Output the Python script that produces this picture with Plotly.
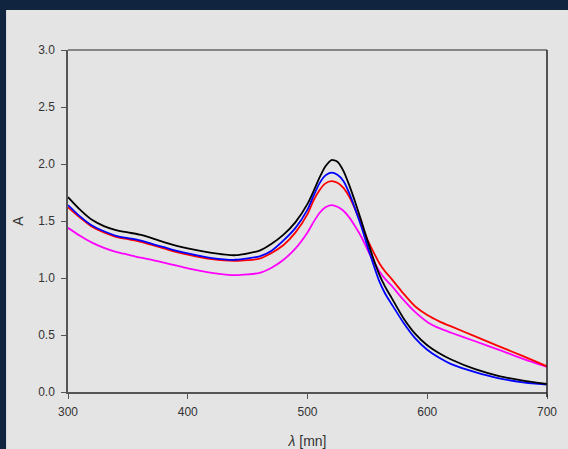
import plotly.graph_objects as go

wavelength = [300, 310, 320, 330, 340, 350, 360, 370, 380, 390, 400, 420, 440, 460, 470, 480, 490,
              500, 505, 510, 515, 520, 525, 530, 535, 540, 545, 550, 555, 560, 565, 570, 580, 590,
              600, 610, 620, 640, 660, 680, 700]

black = [1.71, 1.60, 1.51, 1.455, 1.42, 1.40, 1.38, 1.35, 1.315, 1.285, 1.26, 1.22, 1.20, 1.24, 1.30, 1.38, 1.49,
         1.65, 1.76, 1.88, 1.98, 2.035, 2.02, 1.94, 1.81, 1.66, 1.50, 1.33, 1.17, 1.03, 0.92, 0.83, 0.65, 0.51,
         0.41, 0.34, 0.285, 0.20, 0.14, 0.10, 0.07]

blue = [1.64, 1.54, 1.46, 1.41, 1.37, 1.35, 1.33, 1.30, 1.27, 1.24, 1.215, 1.175, 1.16, 1.19, 1.24, 1.33, 1.44,
        1.60, 1.72, 1.83, 1.90, 1.925, 1.905, 1.85, 1.74, 1.60, 1.45, 1.28, 1.12, 0.97, 0.86, 0.775, 0.61, 0.47,
        0.37, 0.30, 0.245, 0.175, 0.12, 0.085, 0.065]

red = [1.62, 1.53, 1.45, 1.40, 1.36, 1.34, 1.32, 1.29, 1.26, 1.23, 1.205, 1.165, 1.15, 1.17, 1.22, 1.29, 1.40,
       1.56, 1.68, 1.77, 1.83, 1.85, 1.835, 1.79, 1.71, 1.60, 1.47, 1.34, 1.23, 1.13, 1.055, 0.995, 0.865, 0.75,
       0.675, 0.62, 0.575, 0.488, 0.40, 0.315, 0.225]

magenta = [1.44, 1.37, 1.31, 1.265, 1.23, 1.205, 1.18, 1.16, 1.135, 1.11, 1.085, 1.045, 1.025, 1.045, 1.09, 1.16, 1.26,
           1.40, 1.49, 1.57, 1.62, 1.64, 1.625, 1.59, 1.53, 1.45, 1.36, 1.25, 1.15, 1.06, 0.99, 0.935, 0.81, 0.70,
           0.615, 0.56, 0.52, 0.445, 0.37, 0.29, 0.22]

x_ticks = [300, 400, 500, 600, 700]
y_ticks = [0.0, 0.5, 1.0, 1.5, 2.0, 2.5, 3.0]

series = [("magenta", magenta, "#ff00ff"), ("red", red, "#ff0000"),
          ("blue", blue, "#0000ff"), ("black", black, "#000000")]

fig = go.Figure()
for name, vals, col in series:
    fig.add_trace(go.Scatter(x=wavelength, y=vals, mode="lines", name=name,
                             line=dict(color=col, width=1.8, shape="spline", smoothing=0.6),
                             showlegend=False))

W, H = 568, 449
ml, mr, mt, mb = 68, 20.5, 50, 57
pw, ph = W - ml - mr, H - mt - mb

def px_x(p):
    return (p - ml) / pw

def px_y(p):
    return (H - mb - p) / ph

fig.update_layout(
    width=W, height=H,
    margin=dict(l=ml, r=mr, t=mt, b=mb, pad=0, autoexpand=False),
    paper_bgcolor="#10233f",
    plot_bgcolor="#e4e4e4",
    font=dict(family="Liberation Sans, Arial, sans-serif", color="#333333", size=12),
    shapes=[
        dict(type="rect", xref="paper", yref="paper", layer="below",
             x0=px_x(6), x1=px_x(W + 5), y0=px_y(10), y1=px_y(H + 5),
             fillcolor="#e4e4e4", line=dict(width=0)),
        dict(type="line", xref="paper", yref="paper", x0=0, x1=1, y0=1, y1=1,
             line=dict(color="#666666", width=1.5)),
        dict(type="line", xref="paper", yref="paper", x0=1, x1=1, y0=px_y(397), y1=1,
             line=dict(color="#222222", width=1.5)),
    ],
    xaxis=dict(range=[300, 700], tickvals=x_ticks, ticktext=[str(v) for v in x_ticks],
               automargin=False,
               showgrid=False, zeroline=False, showline=True, linecolor="#555555", linewidth=1.5,
               ticks="outside", ticklen=5, tickwidth=1, tickcolor="#555555",
               ticklabelstandoff=3,
               tickfont=dict(size=12, color="#333333"),
               title=dict(text="<i>λ</i> [mn]", font=dict(size=14, color="#333333"), standoff=20)),
    yaxis=dict(range=[0, 3], tickvals=y_ticks, ticktext=[f"{v:.1f}" for v in y_ticks],
               automargin=False,
               showgrid=False, zeroline=False, showline=True, linecolor="#555555", linewidth=1.5,
               ticks="outside", ticklen=5, tickwidth=1, tickcolor="#555555",
               ticklabelstandoff=4,
               tickfont=dict(size=12, color="#333333"),
               title=dict(text="A", font=dict(size=14, color="#333333"), standoff=11)),
)

fig.write_html("out.html", config={"displayModeBar": False},
               post_script="document.body.style.margin='0';document.body.style.overflow='hidden';")
